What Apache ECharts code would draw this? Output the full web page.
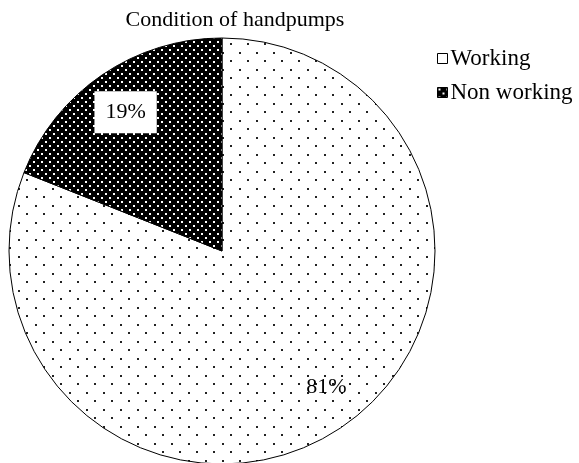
<!DOCTYPE html>
<html>
<head>
<meta charset="utf-8">
<script src="https://cdn.jsdelivr.net/npm/echarts@6/dist/echarts.min.js"></script>
<style>
  html, body { margin: 0; padding: 0; background: #fff; }
  #main { width: 579px; height: 463px; }
</style>
</head>
<body>
<div id="main"></div>
<script>
'use strict';
/* handpump condition pie */

var titleText = 'Condition of handpumps';
var categories = ['Working', 'Non working'];
var values = [81, 19];

var FONT = '"Liberation Serif", "Times New Roman", serif';
var CX = 222, CY = 251, R = 213;

// small canvas tiles used as fill patterns
function makePattern(w, h, bg, fg, dots, dotSize) {
  var c = document.createElement('canvas');
  c.width = w;
  c.height = h;
  var ctx = c.getContext('2d');
  ctx.fillStyle = bg;
  ctx.fillRect(0, 0, w, h);
  ctx.fillStyle = fg;
  dots.forEach(function(d) {
    ctx.fillRect(d[0], d[1], dotSize, dotSize);
  });
  return { image: c, repeat: 'repeat' };
}

var lightDots = makePattern(17, 17, '#ffffff', '#222222', [[1, 1], [9, 9]], 2);
var darkDots = makePattern(8, 8, '#000000', '#ffffff', [[1, 1], [5, 5]], 2);
var fills = [lightDots, darkDots];

var pieData = categories.map(function(name, i) {
  return { name: name, value: values[i], itemStyle: { color: fills[i] } };
});

var labelData = categories.map(function(name, i) {
  var item = { name: name, value: values[i] };
  if (i === 1) {
    item.label = { backgroundColor: '#ffffff', padding: [10, 11] };
  }
  return item;
});

var chart = echarts.init(document.getElementById('main'));
var option = {
  animation: false,
  backgroundColor: '#ffffff',
  title: {
    text: titleText,
    left: 230,
    textAlign: 'center',
    top: 4,
    textStyle: { fontFamily: FONT, fontSize: 22, fontWeight: 'normal', color: '#000' }
  },
  legend: {
    orient: 'vertical',
    left: 432,
    top: 42,
    itemWidth: 10,
    itemHeight: 10,
    itemGap: 11,
    icon: 'rect',
    selectedMode: false,
    itemStyle: { borderColor: '#000', borderWidth: 1 },
    textStyle: { fontFamily: FONT, fontSize: 23, color: '#000', padding: [0, 0, 0, -2] },
    data: [
      { name: 'Working', itemStyle: { color: '#ffffff' } },
      { name: 'Non working' }
    ]
  },
  series: [{
    name: 'Condition',
    type: 'pie',
    center: [CX, CY],
    radius: [0, R],
    startAngle: 90,
    clockwise: true,
    silent: true,
    label: { show: false },
    labelLine: { show: false },
    itemStyle: { borderColor: '#000', borderWidth: 1 },
    data: pieData
  }, {
    name: 'labels',
    type: 'pie',
    center: [CX, CY],
    radius: [124, R],
    startAngle: 90,
    clockwise: true,
    silent: true,
    itemStyle: { color: 'rgba(0,0,0,0)', borderWidth: 0 },
    label: {
      show: true,
      position: 'inside',
      fontFamily: FONT,
      fontSize: 22,
      color: '#000',
      formatter: function(p) { return p.value + '%'; }
    },
    labelLine: { show: false },
    labelLayout: function(p) {
      // nudge the big slice label a little, as in the source
      return p.dataIndex === 0 ? { dx: 8, dy: -6 } : { dy: 3 };
    },
    data: labelData
  }]
};
chart.setOption(option);
</script>
</body>
</html>
